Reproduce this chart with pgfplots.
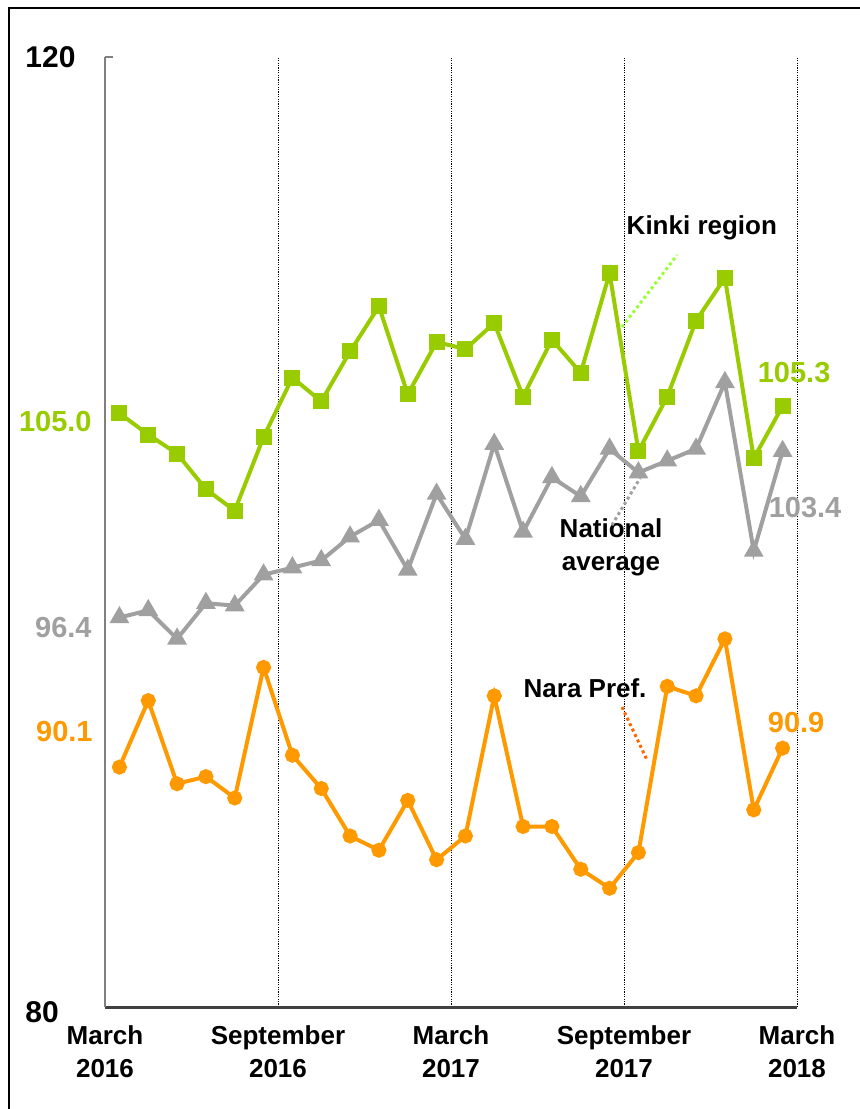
\documentclass[border=0pt]{standalone}
\usepackage{fontspec}
\setmainfont{Liberation Sans}
\usepackage{pgfplots}
\usepackage{pgfplotstable}
\pgfplotsset{compat=1.18}
\definecolor{kinki}{HTML}{99CC00}
\definecolor{natl}{HTML}{A0A0A0}
\definecolor{nara}{HTML}{FF9900}
\definecolor{kinkilead}{HTML}{99FF33}
\definecolor{naralead}{HTML}{FF6600}

\pgfplotstableread{
idx kinki natl nara
0 105.0 96.4 90.1
1 104.1 96.7 92.9
2 103.3 95.5 89.4
3 101.8 97.0 89.7
4 100.9 96.9 88.8
5 104.0 98.2 94.3
6 106.5 98.5 90.6
7 105.5 98.8 89.2
8 107.6 99.8 87.2
9 109.5 100.5 86.6
10 105.8 98.4 88.7
11 108.0 101.6 86.2
12 107.7 99.7 87.2
13 108.8 103.7 93.1
14 105.7 100.0 87.6
15 108.1 102.3 87.6
16 106.7 101.5 85.8
17 110.9 103.5 85.0
18 103.4 102.5 86.5
19 105.7 103.0 93.5
20 108.9 103.5 93.1
21 110.7 106.3 95.5
22 103.1 99.2 88.3
23 105.3 103.4 90.9
}\datatable

\begin{document}
\begin{tikzpicture}
\useasboundingbox (-52.5pt,-51pt) rectangle (377pt,503.5pt);
\draw[overlay, line width=1pt, black] (-48pt,499.5pt) rectangle (390pt,-60pt);
\begin{axis}[
  scale only axis, width=346pt, height=475pt,
  at={(0pt,0pt)}, anchor=south west,
  xmin=-0.5, xmax=23.5, ymin=80, ymax=120,
  clip=false,
  axis x line*=bottom, axis y line*=left,
  axis line style={-},
  x axis line style={black!75, line width=1.5pt},
  y axis line style={gray, line width=1pt},
  xtick={-0.5,5.5,11.5,17.5,23.5},
  xticklabels={{March\\2016},{September\\2016},{March\\2017},{September\\2017},{March\\2018}},
  xticklabel style={align=center, font=\bfseries\fontsize{13}{16.5}\selectfont, yshift=-6pt},
  xtick style={draw=none},
  xmajorgrids,
  grid style={black, line width=0.5pt, dash pattern=on 0.6pt off 0.6pt},
  ytick={120},
  yticklabels={},
  ytick style={gray, line width=1pt},
  major tick length=4pt,
  tick align=inside,
]
\addplot[natl, line width=2pt, mark=triangle*, mark size=3.75pt, mark options={solid}] table[x=idx, y=natl] {\datatable};
\addplot[kinki, line width=2pt, mark=square*, mark size=3pt, mark options={solid}] table[x=idx, y=kinki] {\datatable};
\addplot[nara, line width=2pt, mark=*, mark size=2.75pt, mark options={solid}] table[x=idx, y=nara] {\datatable};

% y labels
\node[anchor=west, inner sep=0, font=\bfseries\fontsize{15}{15}\selectfont] at (axis cs:-0.5,120) [xshift=-40pt] {120};
\node[anchor=west, inner sep=0, font=\bfseries\fontsize{15}{15}\selectfont] at (axis cs:-0.5,80) [xshift=-40pt, yshift=-2.5pt] {80};

% start values
\node[anchor=east, inner sep=0, text=kinki, font=\bfseries\fontsize{14.5}{14.5}\selectfont] at (axis cs:-0.5,104.67) [xshift=-6.5pt] {105.0};
\node[anchor=east, inner sep=0, text=natl, font=\bfseries\fontsize{14.5}{14.5}\selectfont] at (axis cs:-0.5,95.96) [xshift=-6.5pt] {96.4};
\node[anchor=east, inner sep=0, text=nara, font=\bfseries\fontsize{14.5}{14.5}\selectfont] at (axis cs:-0.5,91.58) [xshift=-6pt] {90.1};

% end values
\node[inner sep=0, text=kinki, font=\bfseries\fontsize{14.5}{14.5}\selectfont] at (axis cs:23.4,106.7) {105.3};
\node[inner sep=0, text=natl, font=\bfseries\fontsize{14.5}{14.5}\selectfont] at (axis cs:23.78,101.05) {103.4};
\node[inner sep=0, text=nara, font=\bfseries\fontsize{14.5}{14.5}\selectfont] at (axis cs:23.47,91.96) {90.9};

% series names
\node[inner sep=0, font=\bfseries\fontsize{13}{16.5}\selectfont] at (axis cs:20.2,112.8) {Kinki region};
\node[inner sep=0, align=center, font=\bfseries\fontsize{13}{16.5}\selectfont] at (axis cs:17.05,99.37) {National\\average};
\node[inner sep=0, font=\bfseries\fontsize{13}{16.5}\selectfont] at (axis cs:16.15,93.43) {Nara Pref.};

% leaders
\draw[kinkilead, line width=1.5pt, dash pattern=on 1.5pt off 1.5pt] (axis cs:17.43,108.63) -- (axis cs:19.34,111.66);
\draw[natl, line width=1.5pt, dash pattern=on 1.5pt off 1.5pt] (axis cs:17.08,100.29) -- (axis cs:18.06,102.27);
\draw[naralead, line width=1.5pt, dash pattern=on 1.5pt off 1.5pt] (axis cs:17.43,92.63) -- (axis cs:18.3,90.4);
\end{axis}
\end{tikzpicture}
\end{document}
